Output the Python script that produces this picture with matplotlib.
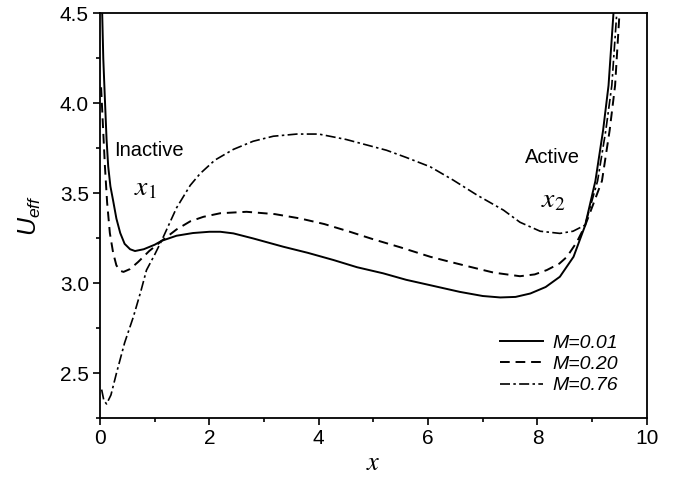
import matplotlib
matplotlib.use('Agg')
from matplotlib import pyplot as plt
from matplotlib.ticker import MultipleLocator

plt.rcParams['font.family'] = ['Liberation Sans', 'DejaVu Sans']
plt.rcParams['mathtext.fontset'] = 'custom'
plt.rcParams['mathtext.it'] = 'Liberation Sans:italic'
plt.rcParams['mathtext.rm'] = 'Liberation Sans'

# values
x_m001 = [0.04, 0.06, 0.09, 0.12, 0.15, 0.19, 0.24, 0.30, 0.37, 0.45, 0.55, 0.64, 0.80, 1.00,
          1.13, 1.40, 1.70, 2.00, 2.20, 2.44, 2.80, 3.35, 3.80, 4.27, 4.70, 5.18, 5.60, 6.04,
          6.58, 7.00, 7.32, 7.60, 7.87, 8.15, 8.41, 8.66, 8.87, 9.06, 9.20, 9.30, 9.39]
y_m001 = [4.50, 4.25, 4.02, 3.80, 3.65, 3.54, 3.46, 3.36, 3.28, 3.22, 3.19, 3.18, 3.19, 3.215,
          3.237, 3.265, 3.28, 3.287, 3.287, 3.278, 3.25, 3.204, 3.17, 3.13, 3.09, 3.056, 3.02, 2.99,
          2.953, 2.93, 2.922, 2.925, 2.944, 2.98, 3.037, 3.148, 3.32, 3.57, 3.85, 4.10, 4.50]

x_m020 = [0.02, 0.05, 0.09, 0.13, 0.18, 0.24, 0.30, 0.37, 0.43, 0.55, 0.70, 0.90, 1.13, 1.40,
          1.65, 1.89, 2.20, 2.68, 3.20, 3.66, 4.10, 4.57, 5.00, 5.50, 6.04, 6.40, 6.77, 7.20,
          7.68, 7.95, 8.17, 8.40, 8.54, 8.72, 8.87, 9.02, 9.18, 9.32, 9.42, 9.50]
y_m020 = [4.09, 3.90, 3.65, 3.45, 3.28, 3.17, 3.10, 3.07, 3.064, 3.08, 3.12, 3.18, 3.237, 3.30,
          3.345, 3.37, 3.39, 3.398, 3.385, 3.361, 3.33, 3.287, 3.245, 3.20, 3.148, 3.12, 3.092, 3.06,
          3.04, 3.05, 3.074, 3.11, 3.148, 3.23, 3.32, 3.44, 3.57, 3.85, 4.10, 4.50]

x_m076 = [0.03, 0.07, 0.12, 0.20, 0.30, 0.45, 0.61, 0.75, 0.85, 1.00, 1.13, 1.40, 1.65, 1.83,
          2.10, 2.44, 2.80, 3.17, 3.60, 4.00, 4.50, 5.24, 5.60, 6.04, 6.46, 6.90, 7.38, 7.68,
          8.05, 8.41, 8.65, 8.87, 9.10, 9.25, 9.36, 9.45]
y_m076 = [2.41, 2.35, 2.33, 2.38, 2.50, 2.67, 2.814, 2.96, 3.074, 3.16, 3.24, 3.42, 3.545, 3.61,
          3.685, 3.745, 3.79, 3.818, 3.83, 3.83, 3.80, 3.74, 3.70, 3.648, 3.574, 3.49, 3.407, 3.34,
          3.29, 3.278, 3.29, 3.324, 3.57, 3.85, 4.10, 4.50]

labels = ['M=0.01', 'M=0.20', 'M=0.76']

fig = plt.figure(figsize=(6.78, 4.82), dpi=100)
ax = fig.add_axes([0.1475, 0.132, 0.8065, 0.840])

ax.plot(x_m001, y_m001, color='black', lw=1.4, ls='-', label=labels[0])
ax.plot(x_m020, y_m020, color='black', lw=1.4, ls=(0, (5, 3)), label=labels[1])
ax.plot(x_m076, y_m076, color='black', lw=1.2, ls=(0, (6, 2, 1.5, 2)), label=labels[2])

ax.set_xlim(0, 10)
ax.set_ylim(2.25, 4.5)
ax.xaxis.set_major_locator(MultipleLocator(2))
ax.xaxis.set_minor_locator(MultipleLocator(1))
ax.yaxis.set_major_locator(MultipleLocator(0.5))
ax.yaxis.set_minor_locator(MultipleLocator(0.25))
ax.tick_params(which='major', direction='out', length=5, width=1.2, labelsize=15, pad=3)
ax.tick_params(which='minor', direction='out', length=3, width=1.2)
for s in ax.spines.values():
    s.set_linewidth(1.3)

ax.set_xlabel(r'$x$', fontsize=19, math_fontfamily='stix', labelpad=2)
ax.set_ylabel(r'$U_{eff}$', fontsize=18, labelpad=12)

ax.text(0.9, 3.74, 'Inactive', fontsize=14.5, ha='center', va='center')
ax.text(0.82, 3.53, r'$x_{\mathit{1}}$', fontsize=20, ha='center', va='center', math_fontfamily='stix')
ax.text(8.27, 3.70, 'Active', fontsize=14.5, ha='center', va='center')
ax.text(8.29, 3.46, r'$x_{\mathit{2}}$', fontsize=20, ha='center', va='center', math_fontfamily='stix')

leg = ax.legend(loc='lower right', frameon=False, fontsize=14, handlelength=2.2,
                handletextpad=0.5, labelspacing=0.18, borderaxespad=0,
                bbox_to_anchor=(0.962, 0.04))
for t in leg.get_texts():
    t.set_fontstyle('italic')

plt.savefig('out.png', dpi=100)
